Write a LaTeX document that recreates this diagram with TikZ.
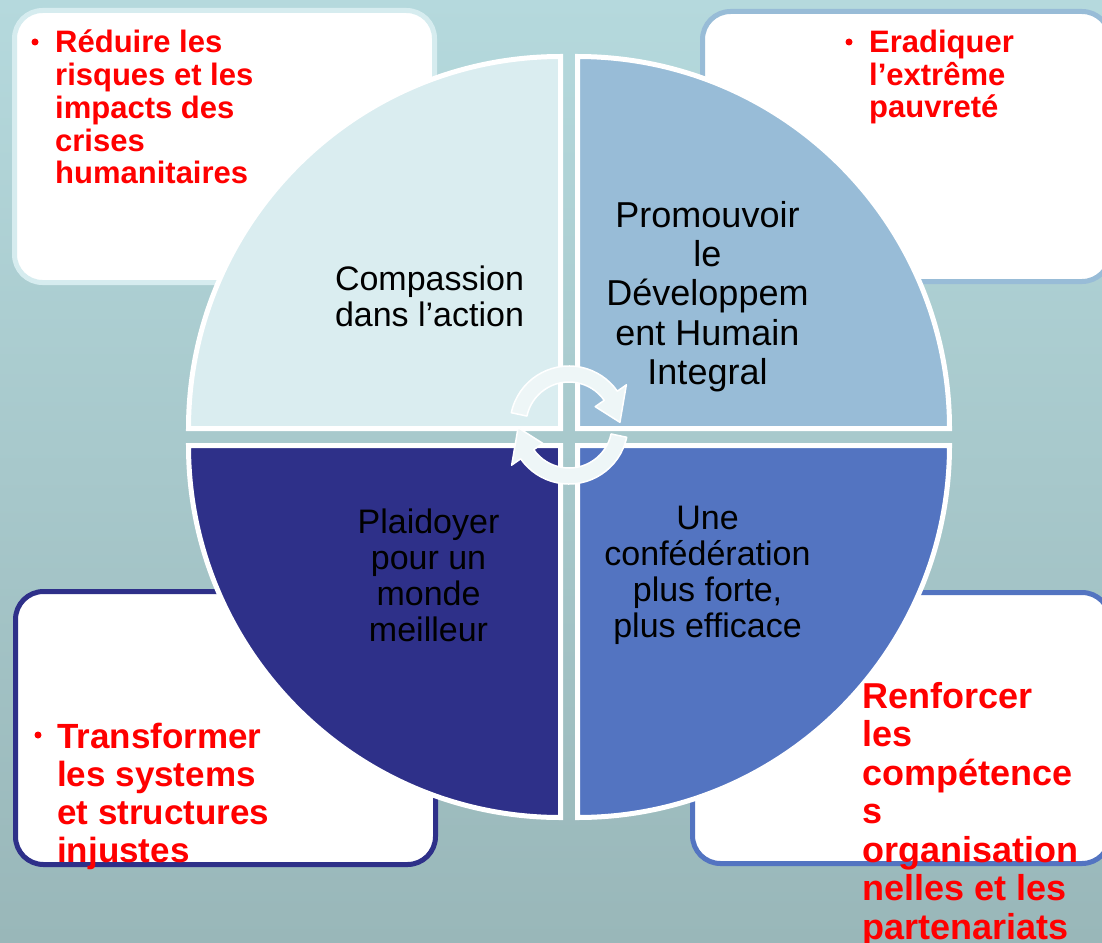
\documentclass[tikz,border=0pt]{standalone}
\usepackage{fontspec}
\setmainfont{Liberation Sans}
\usetikzlibrary{calc}
\definecolor{bgtop}{RGB}{181,217,221}
\definecolor{bgbot}{RGB}{153,183,185}
\definecolor{qtl}{RGB}{218,237,240}
\definecolor{qtr}{RGB}{152,188,215}
\definecolor{qbl}{RGB}{46,48,137}
\definecolor{qbr}{RGB}{83,116,193}
\definecolor{tlframe}{RGB}{214,236,239}
\definecolor{arrowfill}{RGB}{238,246,247}
\begin{document}
\begin{tikzpicture}[x=1pt,y=1pt,
  box/.style={rectangle, rounded corners=28pt, line width=5pt, fill=white, inner sep=0pt},
  quad/.style={draw=white, line width=5pt, line join=miter},
  qtext/.style={align=center, inner sep=0pt, text=black},
  redtxt/.style={align=left, anchor=north west, inner sep=0pt, text=red},
  bul/.style={circle, fill=red, inner sep=0pt, minimum size=7pt},
  cyclearrow/.style={fill=arrowfill, draw=white, line width=1.5pt, line join=round}]
\useasboundingbox (0,0) rectangle (1102,-942);
\clip (0,0) rectangle (1102,-942);
\shade[top color=bgtop, bottom color=bgbot] (0,0) rectangle (1102,-942);

% outer boxes
\node[box, draw=tlframe, minimum width=420pt, minimum height=272pt] (boxTL) at (224.5,-146.5) {};
\node[box, draw=qtr, minimum width=407.5pt, minimum height=270pt] (boxTR) at (906.25,-146.5) {};
\node[box, draw=qbl, minimum width=420pt, minimum height=273pt] (boxBL) at (225.5,-728) {};
\node[box, draw=qbr, minimum width=417.5pt, minimum height=271pt] (boxBR) at (901.25,-728) {};

% quadrants
\filldraw[quad, fill=qtl] (560.5,-428.5) -- ++(-372,0) arc[start angle=180, end angle=90, radius=372] -- cycle;
\filldraw[quad, fill=qtr] (577.5,-428.5) -- ++(0,372) arc[start angle=90, end angle=0, radius=372] -- cycle;
\filldraw[quad, fill=qbl] (560.5,-445.5) -- ++(-372,0) arc[start angle=180, end angle=270, radius=372] -- cycle;
\filldraw[quad, fill=qbr] (577.5,-445.5) -- ++(372,0) arc[start angle=0, end angle=-90, radius=372] -- cycle;

% cycle arrows
\coordinate (A) at (569,-425);
\coordinate (O) at (569,-437);
\path[cyclearrow] ($(A)+(168:59)$) arc[start angle=168, end angle=35, radius=59]
  -- ($(A)+(35:70)$) -- ($(A)+(3:51)$) -- ($(A)+(35:32)$) -- ($(A)+(35:43)$)
  arc[start angle=35, end angle=168, radius=43] -- cycle;
\begin{scope}[rotate around={180:(O)}]
\path[cyclearrow] ($(A)+(168:59)$) arc[start angle=168, end angle=35, radius=59]
  -- ($(A)+(35:70)$) -- ($(A)+(3:51)$) -- ($(A)+(35:32)$) -- ($(A)+(35:43)$)
  arc[start angle=35, end angle=168, radius=43] -- cycle;
\end{scope}

% quadrant texts
\node[qtext, font=\fontsize{34}{36}\selectfont] (tqTL) at (429.5,-296) {Compassion\\dans l’action};
\node[qtext, font=\fontsize{36}{39.25}\selectfont] (tqTR) at (707.5,-296.5) {Promouvoir\\le\\Développem\\ent Humain\\Integral};
\node[qtext, font=\fontsize{34}{36}\selectfont] (tqBL) at (428.5,-575) {Plaidoyer\\pour un\\monde\\meilleur};
\node[qtext, font=\fontsize{34}{36}\selectfont] (tqBR) at (707.5,-575) {Une\\confédération\\plus forte,\\plus efficace};

% red texts
\node[bul] (bTL) at (35,-42) {};
\node[redtxt, font=\bfseries\fontsize{31}{32.75}\selectfont] (rTL) at (55,-30) {Réduire les\\risques et les\\impacts des\\crises\\humanitaires};
\node[bul] (bTR) at (849,-42) {};
\node[redtxt, font=\bfseries\fontsize{31}{32.5}\selectfont] (rTR) at (869,-30) {Eradiquer\\l’extrême\\pauvreté};
\node[bul] (bBL) at (38,-735) {};
\node[redtxt, font=\bfseries\fontsize{35}{38}\selectfont] (rBL) at (57,-723) {Transformer\\les systems\\et structures\\injustes};
\node[redtxt, font=\bfseries\fontsize{36}{38.5}\selectfont] (rBR) at (862,-682) {Renforcer\\les\\compétence\\s\\organisation\\nelles et les\\partenariats};
\end{tikzpicture}
\end{document}
